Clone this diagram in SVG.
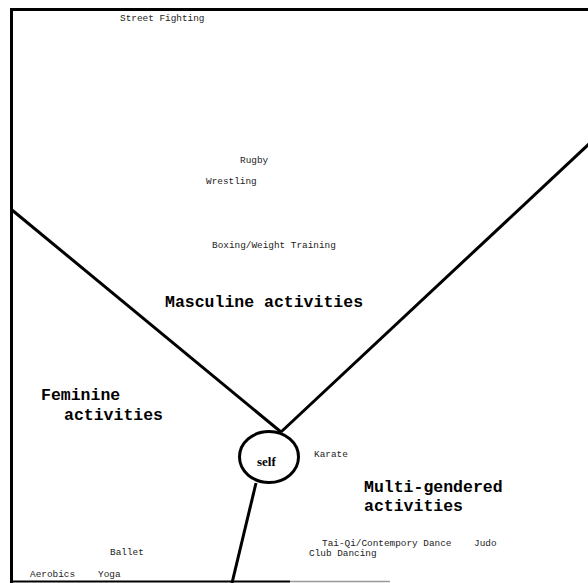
<svg xmlns="http://www.w3.org/2000/svg" width="588" height="583" viewBox="0 0 588 583">
<style>
.s{font-family:"Liberation Mono",monospace;font-size:9.4px;fill:#222}
.b{font-family:"Liberation Mono",monospace;font-size:16.5px;font-weight:bold;fill:#000}
.ln{stroke:#000;stroke-width:3;fill:none}
</style>
<rect width="588" height="583" fill="#fff"/>
<g id="frame">
<path class="ln" d="M11.5,583 V9.5 H588"/>
<path d="M10,581.5 H290" stroke="#000" stroke-width="2"/>
<path d="M290,581.5 H390" stroke="#999" stroke-width="1.5"/>
</g>
<g id="connectors">
<line class="ln" x1="12" y1="210" x2="281" y2="432"/>
<line class="ln" x1="281" y1="432" x2="590" y2="143"/>
<line class="ln" x1="256" y1="483" x2="232" y2="583"/>
</g>
<g id="self">
<ellipse class="ln" cx="269" cy="457" rx="29.5" ry="25.5"/>
<text x="257" y="466" font-family="Liberation Serif,serif" font-weight="bold" font-size="13">self</text>
</g>
<g id="masculine">
<text class="b" x="165" y="307">Masculine activities</text>
<text class="s" x="120" y="21">Street Fighting</text>
<text class="s" x="240" y="163">Rugby</text>
<text class="s" x="206" y="184">Wrestling</text>
<text class="s" x="212" y="248">Boxing/Weight Training</text>
</g>
<g id="feminine">
<text class="b" x="41" y="400">Feminine</text>
<text class="b" x="64" y="420">activities</text>
<text class="s" x="110" y="555">Ballet</text>
<text class="s" x="30" y="577">Aerobics</text>
<text class="s" x="98" y="577">Yoga</text>
</g>
<g id="multi">
<text class="b" x="364" y="492">Multi-gendered</text>
<text class="b" x="364" y="511">activities</text>
<text class="s" x="314" y="457">Karate</text>
<text class="s" x="322" y="546">Tai-Qi/Contempory Dance</text>
<text class="s" x="474" y="546">Judo</text>
<text class="s" x="309" y="556">Club Dancing</text>
</g>
</svg>
